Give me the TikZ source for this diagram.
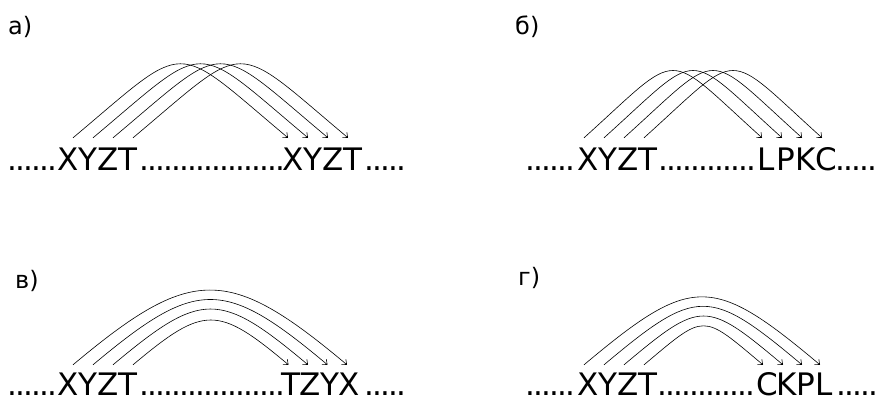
\documentclass[tikz,border=0pt]{standalone}
\usepackage{fontspec}
\setmainfont{DejaVu Sans}
\usetikzlibrary{arrows.meta}
\newcommand{\dotrun}[1]{\foreach \k in {1,...,#1}{\hbox to 8pt{\hss.\hss}}\kern-3pt}
\begin{document}
\begin{tikzpicture}[x=1pt,y=1pt,>={Straight Barb[length=4pt,width=7pt]},
	letter/.style={inner sep=0pt,anchor=base,text height=22pt,text depth=0pt,font=\fontsize{31}{36}\selectfont},
	dotrow/.style={inner sep=0pt,anchor=base west,text height=5pt,text depth=0pt,font=\fontsize{31}{36}\selectfont},
	tag/.style={inner sep=0pt,anchor=base west,font=\fontsize{24}{28}\selectfont},
	arc/.style={->,line width=0.6pt}]
	\useasboundingbox (0,0) rectangle (875,400);
	% а)
	\node[tag] (ta) at (8,365) {а)};
	\node[dotrow] (ad1) at (8,230) {\dotrun{6}};
	\node[dotrow] (ad2) at (140,230) {\dotrun{18}};
	\node[dotrow] (ad3) at (365,230) {\dotrun{5}};
	\foreach \ch [count=\i] in {X,Y,Z,T}{
		\node[letter] (aL\i) at ({48+20*\i},230) {\ch};
		\node[letter] (aR\i) at ({273+20*\i},230) {\ch};
	}
	\foreach \i in {1,...,4}
		\draw[arc] ([xshift=5pt,yshift=10pt]aL\i.north) to[out=40,in=140,looseness=1.83] ([xshift=-5pt,yshift=10pt]aR\i.north);
	% б)
	\node[tag] (tb) at (515,365) {б)};
	\node[dotrow] (bd1) at (526,230) {\dotrun{6}};
	\node[dotrow] (bd2) at (659,230) {\dotrun{12}};
	\node[dotrow] (bd3) at (836,230) {\dotrun{5}};
	\foreach \ch [count=\i] in {X,Y,Z,T}
		\node[letter] (bL\i) at ({568+20*\i},230) {\ch};
	\foreach \ch/\x [count=\i] in {L/766,P/786,K/806,C/826}
		\node[letter] (bR\i) at (\x,230) {\ch};
	\foreach \i in {1,...,4}
		\draw[arc] ([xshift=-4pt,yshift=10pt]bL\i.north) to[out=42,in=138,looseness=1.93] ([xshift=-4pt,yshift=10pt]bR\i.north);
	% в)
	\node[tag] (tc) at (15,112) {в)};
	\node[dotrow] (cd1) at (8,5) {\dotrun{6}};
	\node[dotrow] (cd2) at (140,5) {\dotrun{18}};
	\node[dotrow] (cd3) at (365,5) {\dotrun{5}};
	\foreach \ch [count=\i] in {X,Y,Z,T}
		\node[letter] (cL\i) at ({48+20*\i},5) {\ch};
	\foreach \ch/\x [count=\i] in {T/290.5,Z/310,Y/329.5,X/349}
		\node[letter] (cR\i) at (\x,5) {\ch};
	\foreach \i/\l [evaluate=\i as \j using int(5-\i)] in {1/1.45,2/1.48,3/1.52,4/1.53}
		\draw[arc] ([xshift=5pt,yshift=8pt]cL\i.north) to[out=40,in=140,looseness=\l] ([xshift=-2pt,yshift=8pt]cR\j.north);
	% г)
	\node[tag] (td) at (518,115) {г)};
	\node[dotrow] (dd1) at (526,5) {\dotrun{6}};
	\node[dotrow] (dd2) at (658,5) {\dotrun{12}};
	\node[dotrow] (dd3) at (837,5) {\dotrun{5}};
	\foreach \ch [count=\i] in {X,Y,Z,T}
		\node[letter] (dL\i) at ({568+20*\i},5) {\ch};
	\foreach \ch/\x [count=\i] in {C/767,K/787,P/806,L/824}
		\node[letter] (dR\i) at (\x,5) {\ch};
	\foreach \i/\l [evaluate=\i as \j using int(5-\i)] in {1/1.53,2/1.57,3/1.63,4/1.74}
		\draw[arc] ([xshift=-4pt,yshift=8pt]dL\i.north) to[out=40,in=140,looseness=\l] ([xshift=-4pt,yshift=8pt]dR\j.north);
\end{tikzpicture}
\end{document}
